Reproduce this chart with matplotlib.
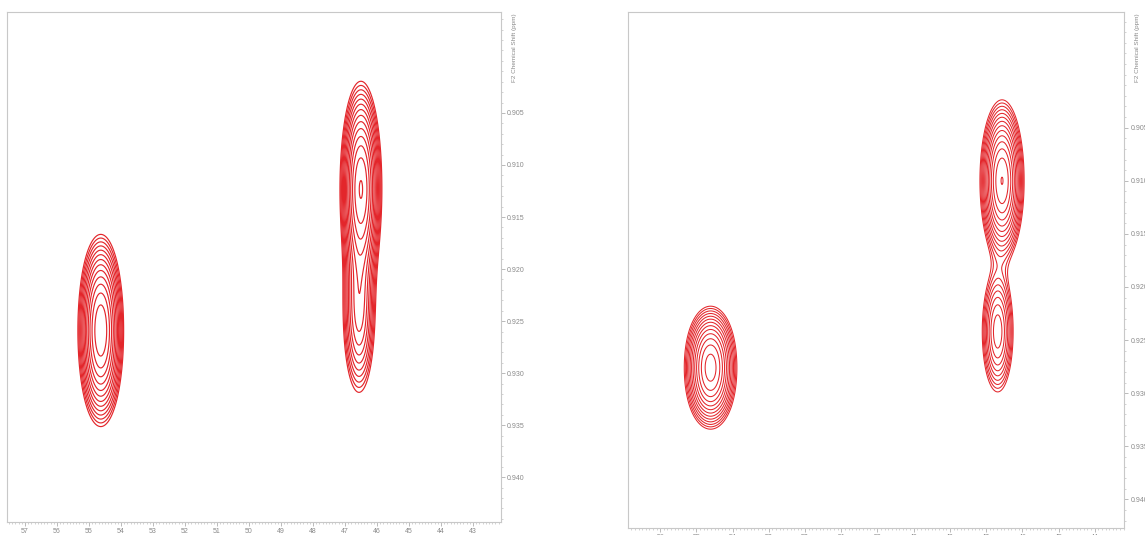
import numpy as np
import matplotlib
matplotlib.use("Agg")
import matplotlib.pyplot as plt
from matplotlib.ticker import MultipleLocator, FormatStrFormatter

# peak parameters (F1 ppm, F2 ppm, width F1, width F2, height)
left_f1 = [54.63, 54.63, 46.50, 46.56]
left_f2 = [0.9240, 0.9278, 0.9122, 0.9242]
left_w1 = [0.33, 0.33, 0.30, 0.28]
left_w2 = [0.0038, 0.0038, 0.0047, 0.0044]
left_amp = [0.55, 0.55, 1.00, 0.42]

right_f1 = [54.61, 54.61, 46.56, 46.68]
right_f2 = [0.9262, 0.9290, 0.9100, 0.9242]
right_w1 = [0.34, 0.34, 0.28, 0.24]
right_w2 = [0.0023, 0.0023, 0.0035, 0.0032]
right_amp = [0.55, 0.55, 1.00, 0.45]

left_xticks = list(range(57, 42, -1))
right_xticks = list(range(56, 43, -1))
yticks = [0.905, 0.910, 0.915, 0.920, 0.925, 0.930, 0.935, 0.940]

base_level = 0.093
level_step = 1.2
n_levels = 14
levels = [base_level * level_step ** i for i in range(n_levels)]

RED = "#e3262b"
GREY = "#8a8a8a"


def spectrum(xlim, ylim, f1, f2, w1, w2, amp):
    x = np.linspace(xlim[1], xlim[0], 700)
    y = np.linspace(ylim[1], ylim[0], 700)
    X, Y = np.meshgrid(x, y)
    Z = np.zeros_like(X)
    for a, b, sa, sb, h in zip(f1, f2, w1, w2, amp):
        Z += h * np.exp(-0.5 * (((X - a) / sa) ** 2 + ((Y - b) / sb) ** 2))
    return X, Y, Z


def style_axes(ax, xlim, ylim, xticks):
    ax.set_xlim(*xlim)
    ax.set_ylim(*ylim)
    ax.set_xticks(xticks)
    ax.set_yticks(yticks)
    ax.xaxis.set_minor_locator(MultipleLocator(0.1))
    ax.yaxis.set_minor_locator(MultipleLocator(0.001))
    ax.yaxis.set_major_formatter(FormatStrFormatter("%.3f"))
    ax.yaxis.tick_right()
    ax.tick_params(which="both", colors="#b0b0b0", labelcolor=GREY,
                   labelsize=5, direction="out")
    ax.tick_params(which="major", length=3, width=0.6, pad=1.5)
    ax.tick_params(which="minor", length=1.5, width=0.4)
    for s in ax.spines.values():
        s.set_color("#c8c8c8")
        s.set_linewidth(0.8)
    ax.text(1.028, 0.998, "F2 Chemical Shift (ppm)", transform=ax.transAxes,
            rotation=90, ha="center", va="top", fontsize=4.6, color=GREY)


plt.rcParams["font.family"] = ["Liberation Sans", "DejaVu Sans"]
fig = plt.figure(figsize=(11.45, 5.35), dpi=100)

ax1 = fig.add_axes([0.00611, 0.0243, 0.4314, 0.9533])
xl1, yl1 = (57.56, 42.125), (0.9443, 0.8953)
X, Y, Z = spectrum(xl1, yl1, left_f1, left_f2, left_w1, left_w2, left_amp)
ax1.contour(X, Y, Z, levels=levels, colors=RED, linewidths=0.85)
style_axes(ax1, xl1, yl1, left_xticks)

ax2 = fig.add_axes([0.5485, 0.01308, 0.4332, 0.9645])
xl2, yl2 = (56.89, 43.19), (0.9427, 0.8941)
X, Y, Z = spectrum(xl2, yl2, right_f1, right_f2, right_w1, right_w2, right_amp)
ax2.contour(X, Y, Z, levels=levels, colors=RED, linewidths=0.75)
style_axes(ax2, xl2, yl2, right_xticks)

fig.savefig("out.png", dpi=100)
